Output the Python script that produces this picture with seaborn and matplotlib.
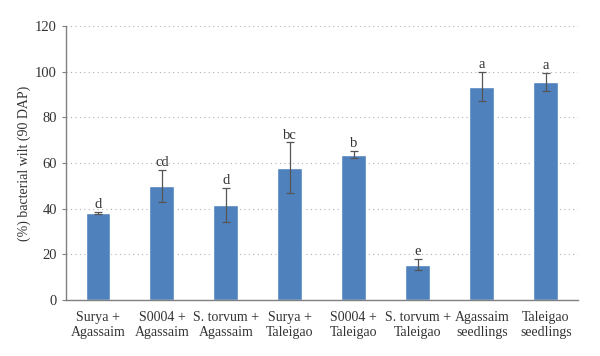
import matplotlib
matplotlib.use("Agg")
import matplotlib.pyplot as plt
import seaborn as sns
import pandas as pd
import numpy as np

# data
categories = ["Surya +\nAgassaim", "S0004 +\nAgassaim", "S. torvum +\nAgassaim",
              "Surya +\nTaleigao", "S0004 +\nTaleigao", "S. torvum +\nTaleigao",
              "Agassaim\nseedlings", "Taleigao\nseedlings"]
wilt = [38, 50, 41.5, 58, 63.7, 15.5, 93.5, 95.5]
err = [0.5, 7, 7.5, 11, 1.7, 2.5, 6.3, 4]
letters = ["d", "cd", "d", "bc", "b", "e", "a", "a"]
yticks = [0, 20, 40, 60, 80, 100, 120]

df = pd.DataFrame({"group": categories, "wilt": wilt})

sns.set_style("white")
plt.rcParams["font.family"] = ["Liberation Serif", "DejaVu Serif"]

fig = plt.figure(figsize=(6, 3.56), dpi=100)
ax = fig.add_axes([0.11, 0.157, 0.853, 0.77])

sns.barplot(data=df, x="group", y="wilt", color="#4F81BD", width=0.39,
            saturation=1, errorbar=None, ax=ax, zorder=2)
ax.errorbar(np.arange(len(wilt)), wilt, yerr=err, fmt="none", ecolor="#555555",
            elinewidth=0.9, capsize=3, capthick=0.9, zorder=3)

for i, (v, e, l) in enumerate(zip(wilt, err, letters)):
    ax.text(i, v + e + 0.3, l, ha="center", va="bottom", fontsize=10.5, color="#333333")

ax.set_ylim(0, 120)
ax.set_xlim(-0.5, len(wilt) - 0.5)
ax.set_yticks(yticks)
ax.yaxis.grid(True, linestyle=(0, (1, 3)), color="#b0b0b0", linewidth=0.8)
ax.set_axisbelow(True)

for s in ["top", "right"]:
    ax.spines[s].set_visible(False)
for s in ["left", "bottom"]:
    ax.spines[s].set_color("#808080")
    ax.spines[s].set_linewidth(1)

ax.tick_params(axis="y", left=True, length=3, color="#808080", labelsize=10.5, labelcolor="#333333")
ax.tick_params(axis="x", bottom=False, labelsize=10, labelcolor="#333333", pad=4)
ax.set_xlabel("")
ax.set_ylabel("(%) bacterial wilt (90 DAP)", fontsize=10, color="#333333", labelpad=3)

fig.savefig("out.png", dpi=100)
